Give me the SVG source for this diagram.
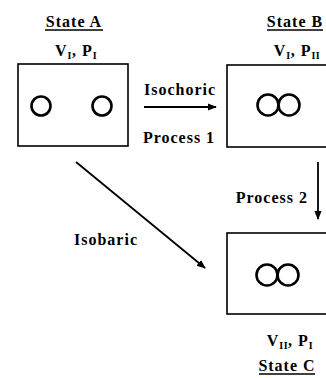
<svg xmlns="http://www.w3.org/2000/svg" width="326" height="378" viewBox="0 0 326 378">
<style>
text{font-family:"Liberation Serif","Times New Roman",serif;font-weight:bold;font-size:16px;letter-spacing:1px;fill:#000}
.sub{font-size:10px;letter-spacing:0.5px}
.box{fill:none;stroke:#000;stroke-width:1.6}
.ring{fill:none;stroke:#000;stroke-width:2.6}
.ul{stroke:#000;stroke-width:1.3}
.conn{stroke:#000;stroke-width:1.8;fill:none}
</style>
<defs>
<marker id="ah" viewBox="0 0 10 10" refX="9" refY="5" markerWidth="5" markerHeight="5" orient="auto" markerUnits="strokeWidth">
<path d="M0,1 L10,5 L0,9 Z" fill="#000"/>
</marker>
</defs>
<rect width="326" height="378" fill="#fff"/>
<g id="stateA">
<text x="74" y="27" text-anchor="middle">State A</text>
<line class="ul" x1="45" y1="30" x2="103" y2="30"/>
<text x="76" y="56" text-anchor="middle">V<tspan class="sub" dy="3">I</tspan><tspan dy="-3">, P</tspan><tspan class="sub" dy="3">I</tspan></text>
<rect class="box" x="18" y="64" width="110" height="82"/>
<circle class="ring" cx="41" cy="106" r="9.5"/>
<circle class="ring" cx="102" cy="106" r="9.5"/>
</g>
<g id="stateB">
<text x="295" y="27" text-anchor="middle">State B</text>
<line class="ul" x1="267" y1="30" x2="323" y2="30"/>
<text x="297" y="56" text-anchor="middle">V<tspan class="sub" dy="3">I</tspan><tspan dy="-3">, P</tspan><tspan class="sub" dy="3">II</tspan></text>
<rect class="box" x="227" y="65" width="120" height="82"/>
<circle class="ring" cx="268" cy="105" r="10.5"/>
<circle class="ring" cx="289" cy="105" r="10.5"/>
</g>
<g id="stateC">
<rect class="box" x="227" y="233" width="120" height="81"/>
<circle class="ring" cx="267" cy="275" r="10.5"/>
<circle class="ring" cx="288" cy="275" r="10.5"/>
<text x="290" y="346" text-anchor="middle">V<tspan class="sub" dy="3">II</tspan><tspan dy="-3">, P</tspan><tspan class="sub" dy="3">I</tspan></text>
<text x="287" y="371" text-anchor="middle">State C</text>
<line class="ul" x1="259" y1="374" x2="315" y2="374"/>
</g>
<g id="connectors">
<line class="conn" x1="144" y1="107" x2="216" y2="107" marker-end="url(#ah)"/>
<text x="180" y="95" text-anchor="middle">Isochoric</text>
<text x="179" y="143" text-anchor="middle">Process 1</text>
<line class="conn" x1="318" y1="162" x2="318" y2="219" marker-end="url(#ah)"/>
<text x="308" y="203" text-anchor="end">Process 2</text>
<line class="conn" x1="76" y1="162" x2="205" y2="268" marker-end="url(#ah)"/>
<text x="106" y="245" text-anchor="middle">Isobaric</text>
</g>
</svg>
